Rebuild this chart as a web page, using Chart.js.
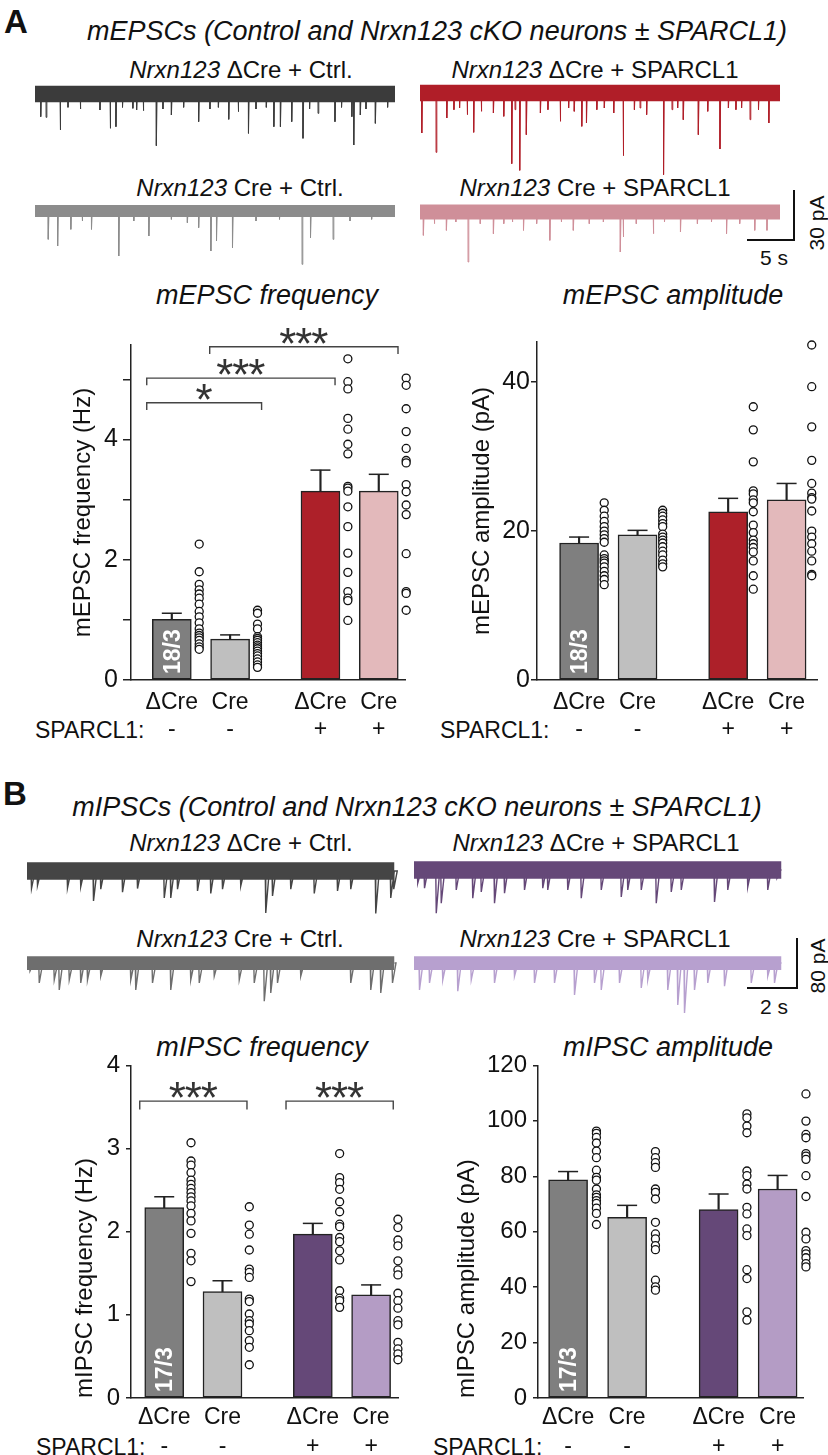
<!DOCTYPE html>
<html>
<head>
<meta charset="utf-8">
<title>Nrxn123 cKO ± SPARCL1</title>
<script src="https://cdn.jsdelivr.net/npm/chart.js@4.4.1/dist/chart.umd.min.js"></script>
<style>
  body { margin: 0; width: 828px; height: 1455px; position: relative; overflow: hidden; background: #fff;
         font-family: "Liberation Sans", Arial, sans-serif; color: #111; }
  canvas { position: absolute; }
  .lbl { position: absolute; white-space: nowrap; transform: translate(-50%, -50%); line-height: 1; }
  .panel { font-weight: bold; font-size: 33px; }
  .head { font-style: italic; font-size: 27px; }
  .trace { font-size: 24px; }
  .scale { font-size: 21px; }
  .ttl { font-style: italic; font-size: 27px; }
  .rot { transform: translate(-50%, -50%) rotate(-90deg); }
  .sp { position: absolute; white-space: nowrap; font-size: 23px; line-height: 1; transform: translateY(-50%); }
</style>
</head>
<body>
<div class="lbl panel" style="left:16px;top:21px">A</div>
<div class="lbl head" style="left:437px;top:31px">mEPSCs (Control and Nrxn123 cKO neurons ± SPARCL1)</div>
<div class="lbl trace" style="left:241px;top:70px"><i>Nrxn123</i> ΔCre + Ctrl.</div>
<div class="lbl trace" style="left:595px;top:70px"><i>Nrxn123</i> ΔCre + SPARCL1</div>
<div class="lbl trace" style="left:240px;top:188px"><i>Nrxn123</i> Cre + Ctrl.</div>
<div class="lbl trace" style="left:595px;top:188px"><i>Nrxn123</i> Cre + SPARCL1</div>
<div class="lbl scale" style="left:774px;top:257px">5 s</div>
<div class="lbl scale rot" style="left:816px;top:223px">30 pA</div>
<div class="lbl ttl" style="left:267px;top:295px">mEPSC frequency</div>
<div class="lbl ttl" style="left:673px;top:295px">mEPSC amplitude</div>
<div class="sp" style="left:35px;top:730px">SPARCL1:</div>
<div class="sp" style="left:440px;top:730px">SPARCL1:</div>

<div class="lbl panel" style="left:15px;top:793px">B</div>
<div class="lbl head" style="left:417px;top:807px">mIPSCs (Control and Nrxn123 cKO neurons ± SPARCL1)</div>
<div class="lbl trace" style="left:241px;top:843px"><i>Nrxn123</i> ΔCre + Ctrl.</div>
<div class="lbl trace" style="left:596px;top:843px"><i>Nrxn123</i> ΔCre + SPARCL1</div>
<div class="lbl trace" style="left:240px;top:939px"><i>Nrxn123</i> Cre + Ctrl.</div>
<div class="lbl trace" style="left:595px;top:939px"><i>Nrxn123</i> Cre + SPARCL1</div>
<div class="lbl scale" style="left:774px;top:1006px">2 s</div>
<div class="lbl scale rot" style="left:817px;top:966px">80 pA</div>
<div class="lbl ttl" style="left:262px;top:1047px">mIPSC frequency</div>
<div class="lbl ttl" style="left:668px;top:1047px">mIPSC amplitude</div>
<div class="sp" style="left:36px;top:1447px">SPARCL1:</div>
<div class="sp" style="left:433px;top:1447px">SPARCL1:</div>

<script>
// groups
var groups = ['ΔCre', 'Cre', 'ΔCre', 'Cre'];
var sparcl1 = ['-', '-', '+', '+'];
var groupX = [1, 2, 3.55, 4.55];

// mEPSC frequency (Hz)
var mepscFreqMean = [1.01, 0.68, 3.14, 3.14];
var mepscFreqSem = [0.10, 0.07, 0.35, 0.28];
var mepscFreqCells = [
  [2.26, 1.80, 1.59, 1.50, 1.43, 1.36, 1.26, 1.14, 1.05, 0.95, 0.85, 0.78, 0.74, 0.70, 0.66, 0.60, 0.55, 0.51],
  [1.16, 1.11, 0.93, 0.85, 0.72, 0.69, 0.66, 0.62, 0.58, 0.55, 0.52, 0.48, 0.44, 0.40, 0.35, 0.30, 0.25, 0.21],
  [5.34, 4.96, 4.84, 4.35, 4.17, 3.92, 3.76, 3.22, 3.19, 3.14, 2.88, 2.55, 2.11, 1.79, 1.47, 1.36, 1.32, 0.99],
  [5.02, 4.90, 4.51, 4.13, 3.85, 3.65, 3.61, 3.25, 3.13, 2.91, 2.75, 2.10, 1.47, 1.44, 1.16]
];
// [from x, to x, height, number of stars]
var mepscFreqBrackets = [[0.57, 2.54, 4.61, 1], [0.57, 3.80, 5.02, 3], [1.65, 4.88, 5.54, 3]];

// mEPSC amplitude (pA)
var mepscAmpMean = [18.4, 19.5, 22.6, 24.2];
var mepscAmpSem = [0.8, 0.6, 1.8, 2.2];
var mepscAmpCells = [
  [23.8, 22.8, 22.0, 21.3, 20.6, 20.0, 19.5, 19.0, 18.5, 16.8, 16.3, 16.0, 15.7, 15.2, 14.6, 14.0, 13.5, 12.8],
  [22.8, 22.4, 22.0, 21.5, 21.0, 20.6, 19.6, 19.2, 18.8, 18.4, 17.9, 17.3, 16.8, 16.1, 15.6, 15.2],
  [36.7, 33.6, 29.3, 25.4, 25.0, 24.2, 23.8, 22.6, 20.8, 19.8, 18.8, 18.3, 17.8, 17.2, 16.0, 14.0, 12.2],
  [45.0, 39.4, 34.0, 29.5, 26.4, 25.1, 24.5, 24.3, 22.7, 20.0, 19.2, 18.3, 17.3, 16.0, 14.2, 14.0]
];

// mIPSC frequency (Hz)
var mipscFreqMean = [2.29, 1.28, 1.97, 1.24];
var mipscFreqSem = [0.13, 0.13, 0.13, 0.12];
var mipscFreqCells = [
  [3.07, 2.85, 2.80, 2.71, 2.62, 2.57, 2.52, 2.47, 2.42, 2.37, 2.31, 2.22, 2.13, 1.98, 1.74, 1.65, 1.40],
  [2.30, 2.08, 1.97, 1.78, 1.55, 1.51, 1.45, 1.19, 1.16, 1.01, 0.93, 0.89, 0.81, 0.69, 0.61, 0.40],
  [2.94, 2.65, 2.59, 2.51, 2.36, 2.24, 2.09, 2.06, 1.93, 1.88, 1.77, 1.66, 1.29, 1.20, 1.17, 1.09],
  [2.15, 2.05, 1.90, 1.83, 1.65, 1.54, 1.48, 1.26, 1.17, 1.08, 0.93, 0.88, 0.67, 0.59, 0.53, 0.46]
];
var mipscFreqBrackets = [[0.58, 2.42, 3.57, 3], [3.09, 4.93, 3.57, 3]];

// mIPSC amplitude (pA)
var mipscAmpMean = [78.7, 65.2, 68.0, 75.4];
var mipscAmpSem = [3.0, 4.3, 5.6, 4.9];
var mipscAmpCells = [
  [96.3, 95.5, 94.0, 92.0, 89.1, 86.7, 82.2, 79.6, 78.6, 75.4, 73.3, 72.4, 71.2, 70.2, 68.5, 66.6, 62.6],
  [88.9, 86.7, 84.9, 83.2, 75.4, 74.2, 71.8, 63.4, 59.2, 57.4, 55.0, 53.5, 42.5, 40.1, 38.9],
  [102.5, 101.1, 98.1, 95.7, 81.9, 80.2, 77.2, 75.4, 68.8, 66.4, 61.0, 58.6, 46.3, 43.1, 31.1, 28.1],
  [109.7, 99.9, 95.1, 93.9, 88.2, 87.3, 86.1, 80.2, 72.7, 59.8, 57.4, 53.2, 52.0, 50.6, 48.5, 47.3]
];

// example traces: events as [time (s), amplitude (pA)]
var epscDCreCtrl = [[0.6,13.6],[1.17,14],[2.66,21.6],[3.5,8],[4.8,9],[6.9,9.6],[7.98,20.6],[8.6,19.6],[9.3,8],
  [10.4,8.6],[10.8,9.6],[11.5,10],[12.9,31],[13.6,9],[14.5,12.6],[15.8,8],[17.4,16.6],[18.6,9],[19.5,8],
  [20.6,15.2],[21.6,10.6],[22.7,23.6],[23.5,9],[24.6,8],[25.4,19.6],[26.1,19.6],[27.3,16.6],[28.5,26.6],
  [29.2,9],[30.1,11.6],[31.9,16.6],[32.6,8],[33.7,13.6],[33.9,30.6],[34.6,12.6],[35.2,9],[36.2,17.6],[37.5,8]];
var epscCreCtrl = [[1.4,17],[2.4,21],[3.8,11],[5.0,6],[6.0,11],[8.9,27],[10.5,6],[12.1,15],[14.5,5],[16.2,7],
  [17.4,10],[18.7,24],[19.3,18],[21.0,22],[23.5,6],[26.0,5],[28.4,32],[29.3,16],[31.7,17],[33.5,6],[35.8,5]];
var epscDCreSp = [[0.18,24],[1.7,35.6],[2.84,15],[3.6,10],[4.2,9],[5.0,13],[5.7,23.6],[6.5,11],[7.8,12],[8.9,14],
  [9.75,42.4],[10.1,10],[10.6,46.4],[11.3,25],[12.8,12],[13.6,10],[14.9,17],[15.8,9],[16.4,11],[17.2,20],
  [17.7,18],[18.8,10],[19.6,9],[20.6,12],[21.6,37.6],[22.8,10],[23.4,9],[24.1,13],[25.9,49],[26.8,10],
  [27.4,9],[28.0,16],[29.6,25],[30.6,11],[31.9,33.6],[32.8,9],[33.6,10],[34.2,9],[35.1,16],[36.0,10],[37.1,18]];
var epscCreSp = [[0.35,14],[1.5,7],[2.8,11],[3.8,6],[5.1,30],[6.4,7],[7.8,13],[8.9,7],[9.8,6],[11.0,11],
  [12.4,7],[13.8,17],[15.0,6],[16.3,11],[18.0,7],[19.5,6],[21.3,24],[21.6,15],[23.0,7],[24.8,13],[26.0,6],
  [27.7,12],[29.5,7],[31.0,6],[32.6,13],[34.0,7],[35.6,11],[36.9,11]];
var ipscDCreCtrl = [[0.16,28],[0.4,23],[1.6,27],[2.13,25],[2.64,48],[2.93,29],[3.8,34],[4.4,28],[5.47,43],
  [5.73,43],[6.0,29],[6.8,32],[7.33,36],[7.8,29],[8.53,24],[9.53,67],[9.8,40],[10.53,29],[11.47,36],
  [12.4,32],[12.93,29],[13.93,68],[14.53,43],[14.65,29]];
var ipscCreCtrl = [[0.1,13],[0.47,32],[1.07,27],[1.27,43],[1.67,27],[2.13,32],[2.4,27],[2.93,21],[4.13,27],
  [4.33,43],[5.0,32],[5.73,43],[6.53,27],[6.87,32],[7.47,21],[8.47,27],[9.07,32],[9.47,61],[9.73,48],
  [10.0,32],[10.93,21],[12.93,32],[13.73,43],[14.13,48],[14.6,32]];
var ipscDCreSp = [[0.13,21],[0.4,29],[0.87,69],[1.07,53],[1.67,32],[2.33,45],[2.67,35],[3.2,53],[3.6,37],
  [4.4,32],[5.13,29],[5.33,32],[6.13,32],[6.67,45],[7.47,32],[8.27,43],[8.53,32],[9.07,32],[9.67,53],
  [10.27,35],[10.67,32],[12.0,51],[12.53,32],[13.33,27],[14.13,32],[14.5,13]];
var ipscCreSp = [[0.2,43],[0.6,32],[1.13,27],[1.73,45],[2.27,27],[3.2,32],[4.0,21],[4.8,32],[5.6,32],[6.4,51],
  [7.2,32],[7.47,43],[8.2,32],[9.07,40],[9.33,27],[10.13,43],[10.53,67],[10.8,80],[11.2,43],[11.73,32],
  [12.4,37],[13.47,32],[14.13,21],[14.4,32]];

Chart.defaults.font.family = '"Liberation Sans", Arial, sans-serif';
Chart.defaults.color = '#111';

function addCanvas(left, top, w, h) {
  var c = document.createElement('canvas');
  c.width = w; c.height = h;
  c.style.left = left + 'px'; c.style.top = top + 'px';
  c.style.width = w + 'px'; c.style.height = h + 'px';
  document.body.appendChild(c);
  return c;
}

// stars over brackets and the n label inside the first bar
var marksPlugin = {
  id: 'marks',
  afterDatasetsDraw: function (chart, args, opts) {
    var ctx = chart.ctx, xs = chart.scales.x, ys = chart.scales.y;
    ctx.save();
    ctx.fillStyle = '#333';
    ctx.font = '44px "Liberation Sans"';
    ctx.textAlign = 'center';
    ctx.textBaseline = 'alphabetic';
    (opts.brackets || []).forEach(function (b) {
      var cx = xs.getPixelForValue((b[0] + b[1]) / 2);
      var cy = ys.getPixelForValue(b[2]) + 12;
      for (var k = 0; k < b[3]; k++) ctx.fillText('*', cx + (k - (b[3] - 1) / 2) * 16, cy);
    });
    if (opts.n) {
      ctx.translate(xs.getPixelForValue(groupX[0]) + 8, ys.getPixelForValue(0) - 6);
      ctx.rotate(-Math.PI / 2);
      ctx.font = 'bold 23px "Liberation Sans"';
      ctx.fillStyle = '#fff';
      ctx.textAlign = 'left';
      ctx.fillText(opts.n, 0, 0);
    }
    ctx.restore();
  }
};

function makeBarChart(c) {
  var canvas = addCanvas(c.left, c.top, c.width, c.height);
  // last group first, so the points are not treated as x-sorted and none are culled at the edge
  var dots = [];
  for (var i = c.cells.length - 1; i >= 0; i--) {
    c.cells[i].forEach(function (v) { dots.push({x: groupX[i] + c.dotShift, y: v}); });
  }
  var datasets = [
    {type: 'scatter', data: dots, pointRadius: 4, pointBorderWidth: 1.3, pointBackgroundColor: '#fff',
     pointBorderColor: '#111', clip: false, order: 0},
    {type: 'scatter', data: c.mean.map(function (m, i) { return {x: groupX[i], y: m + c.sem[i]}; }),
     pointStyle: 'line', pointRadius: 10, pointBorderWidth: 1.5, pointBorderColor: '#222', clip: false, order: 1},
    {type: 'bar', data: c.mean.map(function (m, i) { return {x: groupX[i], y: [m, m + c.sem[i]]}; }),
     backgroundColor: '#222', borderWidth: 0, barThickness: 1.5, grouped: false, order: 2},
    {type: 'bar', data: c.mean.map(function (m, i) { return {x: groupX[i], y: m}; }),
     backgroundColor: c.colors, borderColor: '#222', borderWidth: 1.5, borderSkipped: false,
     barThickness: 39, grouped: false, order: 3}
  ];
  (c.brackets || []).forEach(function (b) {
    datasets.push({type: 'line', data: [{x: b[0], y: b[2] - c.leg}, {x: b[0], y: b[2]}, {x: b[1], y: b[2]}, {x: b[1], y: b[2] - c.leg}],
      borderColor: '#444', borderWidth: 1.4, pointRadius: 0, fill: false, tension: 0, clip: false, order: 0});
  });
  new Chart(canvas, {
    type: 'bar',
    data: {datasets: datasets},
    plugins: [marksPlugin],
    options: {
      responsive: false,
      animation: false,
      events: [],
      layout: {padding: {top: c.padTop, right: c.padRight, left: 0, bottom: 0}},
      plugins: {legend: {display: false}, tooltip: {enabled: false}, marks: {brackets: c.brackets, n: c.n}},
      scales: {
        x: {
          type: 'linear', min: c.xMin, max: c.xMax, offset: false,
          afterBuildTicks: function (axis) { axis.ticks = groupX.map(function (v) { return {value: v}; }); },
          afterFit: function (axis) { axis.height = c.xAxisHeight; },
          grid: {display: false, drawTicks: false, offset: false},
          border: {display: true, color: '#222', width: 1.5},
          ticks: {
            autoSkip: false, maxRotation: 0, padding: c.labelPad, color: '#111',
            font: {size: 23, lineHeight: c.labelLine},
            callback: function (v, i) { return [groups[i], sparcl1[i]]; }
          }
        },
        y: {
          min: 0, max: c.yMax,
          afterFit: function (axis) { axis.width = c.yAxisWidth; },
          grid: {display: true, drawOnChartArea: false, drawTicks: true, tickLength: c.tickLen, color: '#222', lineWidth: 1.5},
          border: {display: true, color: '#222', width: 1.5},
          ticks: {
            stepSize: c.step, includeBounds: false, padding: c.tickPad, color: '#111',
            font: {size: c.tickFont},
            callback: function (v) { return v % c.labelEvery === 0 ? v : ''; }
          },
          title: {display: true, text: c.title, color: '#111', font: {size: 24}, align: c.titleAlign,
                  padding: {top: c.titlePad, bottom: 0}}
        }
      }
    }
  });
}

function makeTrace(c) {
  var canvas = addCanvas(c.left, c.top, c.width, c.height);
  var span = c.width / c.pxPerSec;
  var yMax = (c.baseY - c.top) / c.pxPerPa;
  var yMin = -(c.top + c.height - c.baseY) / c.pxPerPa;
  var pts = [{x: 0, y: 0}];
  c.spikes.slice().sort(function (a, b) { return a[0] - b[0]; }).forEach(function (s) {
    pts.push({x: s[0], y: 0}, {x: s[0] + c.rise, y: -s[1]}, {x: s[0] + c.rise + c.decay, y: 0});
  });
  pts.push({x: c.dur, y: 0});
  var datasets = [
    {data: [{x: 0, y: c.band}, {x: c.dur, y: c.band}], fill: {value: -c.band}, backgroundColor: c.color,
     borderWidth: 0, pointRadius: 0},
    {data: pts, borderColor: c.color, borderWidth: c.lw, pointRadius: 0, fill: false, tension: 0}
  ];
  if (c.bar) {
    var bx = (c.bar.cornerX - c.left) / c.pxPerSec;
    var by = -(c.bar.cornerY - c.baseY) / c.pxPerPa;
    datasets.push({data: [{x: bx - c.bar.sec, y: by}, {x: bx, y: by}, {x: bx, y: by + c.bar.pa}],
      borderColor: '#111', borderWidth: 2, pointRadius: 0, fill: false, tension: 0});
  }
  new Chart(canvas, {
    type: 'line',
    data: {datasets: datasets},
    options: {
      responsive: false, animation: false, events: [],
      layout: {padding: 0},
      plugins: {legend: {display: false}, tooltip: {enabled: false}},
      scales: {
        x: {type: 'linear', display: false, min: 0, max: span},
        y: {display: false, min: yMin, max: yMax}
      }
    }
  });
}

var colorsA = ['#7f7f7f', '#bfbfbf', '#ad2029', '#e3b9bb'];
var colorsB = ['#7f7f7f', '#bfbfbf', '#654878', '#b49cc5'];

// panel A traces: 9.4 px per s, 30 pA = 50 px
var aT = {pxPerSec: 9.4, pxPerPa: 50 / 30, dur: 38.3, rise: 0.01, decay: 0.08, lw: 1};
makeTrace(Object.assign({}, aT, {spikes: epscDCreCtrl, color: '#3b3b3b', left: 35, top: 80, width: 362, height: 100, baseY: 94, band: 5}));
makeTrace(Object.assign({}, aT, {spikes: epscCreCtrl, color: '#8c8c8c', left: 35, top: 198, width: 362, height: 72, baseY: 211, band: 3.6}));
makeTrace(Object.assign({}, aT, {spikes: epscDCreSp, color: '#b01e28', left: 420, top: 80, width: 362, height: 100, baseY: 93, band: 5}));
makeTrace(Object.assign({}, aT, {spikes: epscCreSp, color: '#cf8f99', left: 420, top: 185, width: 380, height: 85, baseY: 212, band: 4.5,
  bar: {sec: 5, pa: 30, cornerX: 794, cornerY: 240}}));

// panel B traces: 25 px per s, 80 pA = 50 px
var bT = {pxPerSec: 25, pxPerPa: 50 / 80, dur: 14.7, rise: 0.02, decay: 0.14, lw: 1.4};
makeTrace(Object.assign({}, bT, {spikes: ipscDCreCtrl, color: '#454545', left: 27, top: 850, width: 372, height: 70, baseY: 871, band: 14}));
makeTrace(Object.assign({}, bT, {spikes: ipscCreCtrl, color: '#6e6e6e', left: 27, top: 945, width: 372, height: 65, baseY: 963, band: 11}));
makeTrace(Object.assign({}, bT, {spikes: ipscDCreSp, color: '#654878', left: 414, top: 850, width: 370, height: 70, baseY: 870, band: 14}));
makeTrace(Object.assign({}, bT, {spikes: ipscCreSp, color: '#b7a0cf', left: 414, top: 930, width: 390, height: 90, baseY: 963, band: 11,
  bar: {sec: 2, pa: 80, cornerX: 797, cornerY: 988}}));

makeBarChart({left: 60, top: 325, width: 360, height: 425, yAxisWidth: 71, xAxisHeight: 70, padTop: 18, padRight: 15,
  xMin: 0.3, xMax: 5.0, yMax: 5.57, step: 1, labelEvery: 2, tickLen: 8, tickPad: 5, tickFont: 25,
  title: 'mEPSC frequency (Hz)', titlePad: 8.6, titleAlign: 'center', labelPad: 9.5, labelLine: 1.17,
  mean: mepscFreqMean, sem: mepscFreqSem, cells: mepscFreqCells, colors: colorsA,
  brackets: mepscFreqBrackets, leg: 0.12, n: '18/3', dotShift: 0.47});

makeBarChart({left: 460, top: 325, width: 370, height: 425, yAxisWidth: 77, xAxisHeight: 70, padTop: 17, padRight: 13,
  xMin: 0.28, xMax: 5.07, yMax: 45.4, step: 20, labelEvery: 20, tickLen: 6, tickPad: 1, tickFont: 25,
  title: 'mEPSC amplitude (pA)', titlePad: 7.6, titleAlign: 'center', labelPad: 9.5, labelLine: 1.17,
  mean: mepscAmpMean, sem: mepscAmpSem, cells: mepscAmpCells, colors: colorsA,
  brackets: [], leg: 0, n: '18/3', dotShift: 0.43});

makeBarChart({left: 60, top: 1045, width: 350, height: 410, yAxisWidth: 71, xAxisHeight: 57, padTop: 18, padRight: 10,
  xMin: 0.43, xMax: 5.02, yMax: 4, step: 1, labelEvery: 1, tickLen: 5, tickPad: 6, tickFont: 24,
  title: 'mIPSC frequency (Hz)', titlePad: 10.6, titleAlign: 'start', labelPad: 5.5, labelLine: 1.26,
  mean: mipscFreqMean, sem: mipscFreqSem, cells: mipscFreqCells, colors: colorsB,
  brackets: mipscFreqBrackets, leg: 0.1, n: '17/3', dotShift: 0.46});

makeBarChart({left: 445, top: 1045, width: 370, height: 410, yAxisWidth: 93, xAxisHeight: 57, padTop: 19, padRight: 12,
  xMin: 0.49, xMax: 4.98, yMax: 120, step: 20, labelEvery: 20, tickLen: 5, tickPad: 6, tickFont: 24,
  title: 'mIPSC amplitude (pA)', titlePad: 7.6, titleAlign: 'start', labelPad: 5.5, labelLine: 1.26,
  mean: mipscAmpMean, sem: mipscAmpSem, cells: mipscAmpCells, colors: colorsB,
  brackets: [], leg: 0, n: '17/3', dotShift: 0.48});
</script>
</body>
</html>
